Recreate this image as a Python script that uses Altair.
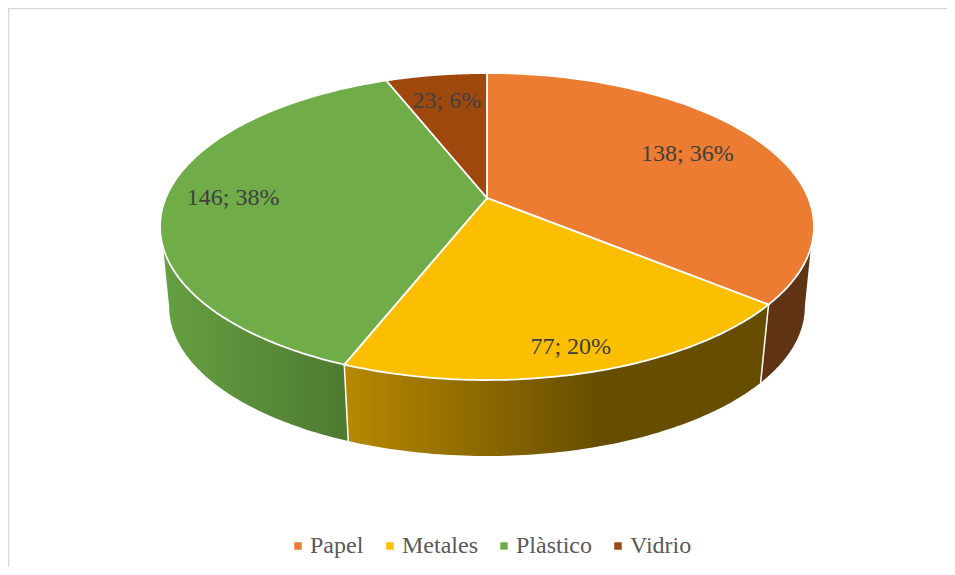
import math
import altair as alt

categories = ["Papel", "Metales", "Plàstico", "Vidrio"]
values = [138, 77, 146, 23]
percents = [36, 20, 38, 6]
colors = ["#EC7C32", "#FBBF00", "#70AC48", "#9E480E"]

# perspective disc geometry (page pixels)
CX, CY, A, B, K = 487.0, 198.0, 321.3, 148.2, 0.1857
ELL_CY = 226.5
S, BOTTOM_CY = 0.972, 306.8
label_r = [0.73, 0.875, 0.79, 0.76]
RIM_L, RIM_R = 251.5, 108.5      # where the wall leaves the top rim
SIL_L, SIL_R = 259.3, 100.7      # silhouette of the lower rim
W, H = 939, 559
PROJ = dict(type="identity", scale=1, translate=[-8, -8])


def proj(theta, r=1.0):
    t = math.radians(theta)
    u, v = r * math.sin(t), r * math.cos(t)
    w = 1 + K * v
    return [CX + A * u / w, CY - B * v / w]


def low(theta):
    x, y = proj(theta)
    return [CX + (x - CX) * S, BOTTOM_CY + (y - ELL_CY) * S]


def span(a, b, n=80):
    return [a + (b - a) * i / n for i in range(n + 1)]


def feature(name, ring):
    return {"type": "Feature", "properties": {"name": name},
            "geometry": {"type": "Polygon", "coordinates": [ring + [ring[0]]]}}


total = sum(values)
starts, cum = [], 0
for v in values:
    starts.append(cum / total * 360)
    cum += v
ends = starts[1:] + [360.0]

top = [feature(n, [[CX, CY]] + [proj(t) for t in span(a, b)])
       for n, a, b in zip(categories, starts, ends)]


def wall(a_top, b_top, a_low, b_low):
    ring = [proj(t) for t in span(a_top, b_top)] + [low(t) for t in span(b_low, a_low)]
    return feature("wall", ring)


def wall_layer(f, fill):
    return alt.Chart(alt.Data(values=[f])).mark_geoshape(
        fill=fill, stroke="#FFFFFF", strokeWidth=0
    ).project(**PROJ)


def grad(stops):
    return alt.Gradient(gradient="linear", x1=0, x2=1, y1=0, y2=0,
                        stops=[alt.GradientStop(offset=o, color=c) for o, c in stops])


w_paper = wall(RIM_R, ends[0], SIL_R, ends[0])
w_metal = wall(starts[1], ends[1], starts[1], ends[1])
w_plast = wall(starts[2], RIM_L, starts[2], SIL_L)

layers = [
    wall_layer(w_paper, "#603314"),
    wall_layer(w_plast, grad([(0, "#669F42"), (1, "#4E7A31")])),
    wall_layer(w_metal, grad([(0, "#B88900"), (0.6, "#664D00"), (1, "#664D00")])),
]

# separators between the wall segments
seps = [feature("sep", [proj(a), low(a), proj(a)]) for a in (ends[0], ends[1])]
layers.append(
    alt.Chart(alt.Data(values=seps)).mark_geoshape(
        fill="transparent", stroke="#FFFFFF", strokeWidth=1.5
    ).project(**PROJ)
)

layers.append(
    alt.Chart(alt.Data(values=top)).mark_geoshape(stroke="#FFFFFF", strokeWidth=1.8).encode(
        color=alt.Color(
            "properties.name:N",
            scale=alt.Scale(domain=categories, range=colors),
            sort=categories,
            legend=alt.Legend(
                title=None, orient="none", direction="horizontal", columns=4,
                legendX=278, legendY=526,
                symbolType="square", symbolSize=56, symbolStrokeWidth=0,
                labelFont="Liberation Serif", labelFontSize=24, labelColor="#595959",
                labelOffset=0, columnPadding=14, labelLimit=200,
            ),
        )
    ).project(**PROJ)
)

labels = []
for n, a, b, v, p, r in zip(categories, starts, ends, values, percents, label_r):
    x, y = proj((a + b) / 2, r)
    labels.append({"lon": x, "lat": y, "t": f"{v}; {p}%"})

layers.append(
    alt.Chart(alt.Data(values=labels)).mark_text(
        font="Liberation Serif", fontSize=24, color="#404040", baseline="middle", align="center"
    ).encode(longitude="lon:Q", latitude="lat:Q", text="t:N").project(**PROJ)
)

frame_top = alt.Chart(alt.Data(values=[{"a": 0}])).mark_rule(
    color="#D9D9D9", strokeWidth=1.6
).encode(x=alt.value(0), x2=alt.value(W), y=alt.value(0.5))
frame_left = alt.Chart(alt.Data(values=[{"a": 0}])).mark_rule(
    color="#D9D9D9", strokeWidth=1.6
).encode(y=alt.value(0), y2=alt.value(H), x=alt.value(0.5))

chart = alt.layer(frame_top, frame_left, *layers).properties(
    width=W, height=H, padding=0, autosize=alt.AutoSizeParams(type="none"),
    background="#FFFFFF",
).configure_view(stroke=None)

chart.save("out.html", embed_options={"renderer": "svg", "actions": False})
